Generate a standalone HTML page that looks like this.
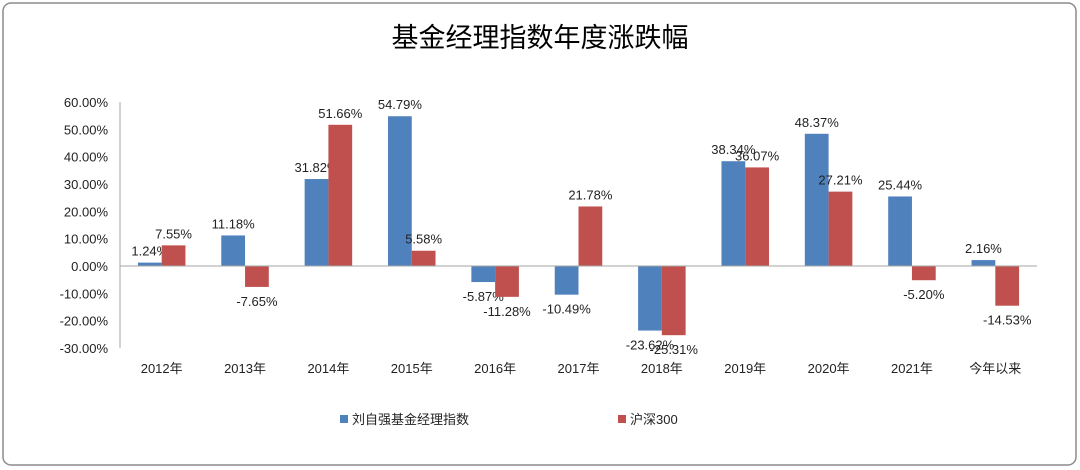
<!DOCTYPE html>
<html><head><meta charset="utf-8"><style>
body{margin:0;background:#fff;}
svg{display:block;font-family:"Liberation Sans","Noto Sans CJK SC",sans-serif;}
</style></head><body>
<svg width="1080" height="470">
<rect x="3" y="3" width="1073" height="462" rx="8" fill="#fff" stroke="#8c8c8c" stroke-width="1.5"/>
<text x="540" y="47" text-anchor="middle" font-size="27" fill="#000" font-family="'Noto Sans CJK SC',sans-serif">基金经理指数年度涨跌幅</text>
<g id="plot"></g>
<g>
<rect x="340" y="415" width="8" height="8" fill="#4f81bd"/>
<text x="352" y="424" font-size="13" fill="#222">刘自强基金经理指数</text>
<rect x="618" y="415" width="8" height="8" fill="#c0504d"/>
<text x="630" y="424" font-size="13" fill="#222">沪深300</text>
</g>
</svg>
<script>
const categories=["2012年","2013年","2014年","2015年","2016年","2017年","2018年","2019年","2020年","2021年","今年以来"];
const fundValues=[1.24,11.18,31.82,54.79,-5.87,-10.49,-23.62,38.34,48.37,25.44,2.16];
const hs300Values=[7.55,-7.65,51.66,5.58,-11.28,21.78,-25.31,36.07,27.21,-5.20,-14.53];
const yTicks=[60,50,40,30,20,10,0,-10,-20,-30];
const NS="http://www.w3.org/2000/svg";
const g=document.getElementById('plot');
const x0=120,x1=1037,yTop=102,yBot=348,vMax=60,vMin=-30;
const band=(x1-x0)/categories.length;
function y(v){return yTop+(vMax-v)/(vMax-vMin)*(yBot-yTop);}
function xc(i){return x0+band*(i+0.5);}
function el(t,a){const e=document.createElementNS(NS,t);for(const k in a)e.setAttribute(k,a[k]);g.appendChild(e);return e;}
const ax=el('line',{x1:x0,y1:yTop,x2:x0,y2:yBot,stroke:'#a6a6a6'});


yTicks.forEach(t=>{
 const tx=el('text',{x:x0-12,y:y(t)+5,'text-anchor':'end','font-size':13,fill:'#222'});
 tx.textContent=t.toFixed(2)+'%';
 
 
});
const bw=band*0.285;
categories.forEach((c,i)=>{
 const cx=xc(i);
 [[fundValues[i],'#4f81bd',cx-bw,'fund'],[hs300Values[i],'#c0504d',cx,'hs300']].forEach(([v,col,bx,s])=>{
  const top=Math.min(y(v),y(0)),h=Math.abs(y(v)-y(0));
  const r=el('rect',{x:bx,y:top,width:bw,height:h,fill:col});
  
  
  const ly=v>=0?y(v)-7:y(v)+19;
  const t=el('text',{x:bx+bw/2,y:ly,'text-anchor':'middle','font-size':13,fill:'#222'});
  t.textContent=v.toFixed(2)+'%';
  
  
 });
 const t=el('text',{x:cx,y:373,'text-anchor':'middle','font-size':13,fill:'#222'});
 t.textContent=c;
 
 
});
const zl=el('line',{x1:x0,y1:y(0),x2:x1,y2:y(0),stroke:'#a6a6a6'});


</script>
</body></html>
